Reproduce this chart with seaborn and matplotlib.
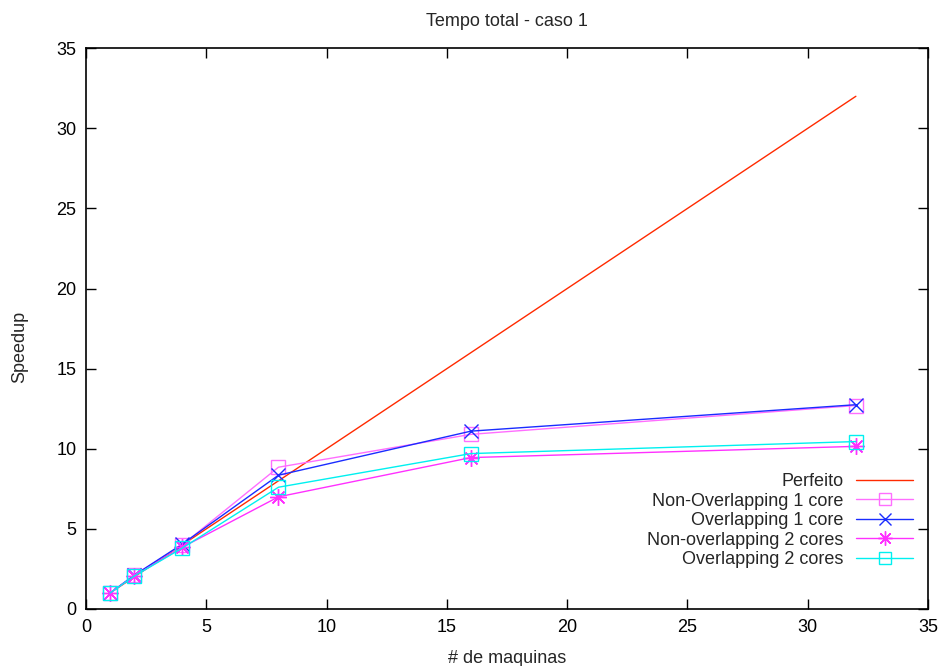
import matplotlib
matplotlib.use("Agg")
import matplotlib.pyplot as plt
import seaborn as sns
import pandas as pd

machines = [1, 2, 4, 8, 16, 32]
perfect = [1, 2, 4, 8, 16, 32]
non_overlap_1 = [1.0, 2.1, 4.0, 8.85, 10.9, 12.7]
overlap_1 = [1.0, 2.1, 4.05, 8.35, 11.1, 12.75]
non_overlap_2 = [1.0, 2.05, 3.85, 7.0, 9.45, 10.15]
overlap_2 = [1.0, 2.05, 3.8, 7.6, 9.7, 10.45]

labels = ["Perfeito", "Non-Overlapping 1 core", "Overlapping 1 core",
          "Non-overlapping 2 cores", "Overlapping 2 cores"]
series = [perfect, non_overlap_1, overlap_1, non_overlap_2, overlap_2]
colors = ["#ff2a00", "#ff6eff", "#1a2cff", "#ff30ff", "#00f0f0"]
markers = [None, "s", "x", (8, 2, 0), "s"]
sizes = [0, 9.5, 9.5, 12, 9.5]

sns.set_theme(style="ticks")
plt.rcParams["font.family"] = ["Liberation Sans", "DejaVu Sans"]

fig = plt.figure(figsize=(9.44, 6.66), dpi=100)
ax = fig.add_axes([0.0911, 0.0856, 0.892, 0.842])

for lab, vals, col, mk, ms in zip(labels, series, colors, markers, sizes):
    df = pd.DataFrame({"x": machines, "y": vals})
    kw = dict(marker=mk, markersize=ms, markeredgewidth=1.0,
              markeredgecolor=col) if mk is not None else {}
    if mk == "s":
        kw["markerfacecolor"] = "none"
    sns.lineplot(data=df, x="x", y="y", ax=ax, color=col, linewidth=1.0,
                 label=lab, **kw)

ax.set_xlim(0, 35)
ax.set_ylim(0, 35)
ax.set_xticks(range(0, 36, 5))
ax.set_yticks(range(0, 36, 5))
ax.tick_params(direction="in", top=True, right=True, length=7, width=1,
               labelsize=13, colors="black", pad=7)
for s in ax.spines.values():
    s.set_color("black")
    s.set_linewidth(1.2)

ax.set_xlabel("# de maquinas", fontsize=13, labelpad=10)
ax.set_ylabel("Speedup", fontsize=13)
ax.yaxis.set_label_coords(-0.069, 0.467)
ax.set_title("Tempo total - caso 1", fontsize=13, pad=16)

leg = ax.legend(loc="lower right", bbox_to_anchor=(0.991, 0.06), frameon=False,
                markerfirst=False, fontsize=13, handlelength=3.15,
                labelspacing=0.14, handletextpad=0.7, borderaxespad=0,
                markerscale=0.85)
for t in leg.get_texts():
    t.set_ha("right")

fig.savefig("out.png", dpi=100)
